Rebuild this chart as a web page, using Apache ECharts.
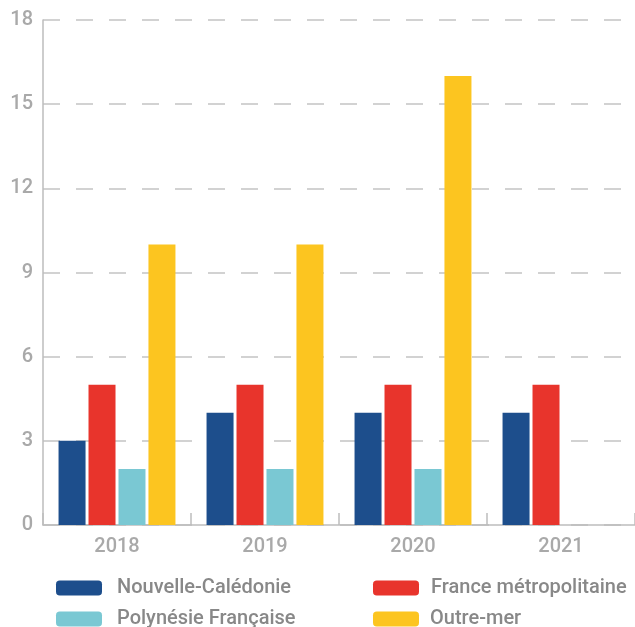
<!DOCTYPE html>
<html>
<head>
<meta charset="utf-8">
<script src="https://cdn.jsdelivr.net/npm/echarts@6/dist/echarts.min.js"></script>
<style>
  html, body { margin: 0; padding: 0; background: #fff; }
  #chart { width: 635px; height: 627px; }
</style>
</head>
<body>
<div id="chart"></div>
<script>
// Years on the category axis
const years = ['2018', '2019', '2020', '2021'];

// Values per territory
const nouvelleCaledonie = [3, 4, 4, 4];
const franceMetropolitaine = [5, 5, 5, 5];
const polynesieFrancaise = [2, 2, 2, null];
const outreMer = [10, 10, 16, null];

const seriesNames = ['Nouvelle-Calédonie', 'France métropolitaine', 'Polynésie Française', 'Outre-mer'];
const seriesColors = ['#1d4e8c', '#e8342c', '#7ac8d3', '#fcc520'];
const seriesData = [nouvelleCaledonie, franceMetropolitaine, polynesieFrancaise, outreMer];

// Legend laid out as two columns of two rows
const legendSlots = [
  { left: 56, top: 578, textGap: 10 },
  { left: 373, top: 578, textGap: 7 },
  { left: 56, top: 609, textGap: 10 },
  { left: 373, top: 609, textGap: 6 }
];

const chart = echarts.init(document.getElementById('chart'));

chart.setOption({
  animation: false,
  grid: { left: 43, top: 20, width: 595, height: 505, containLabel: false },
  legend: seriesNames.map((name, i) => ({
    data: [name],
    left: legendSlots[i].left, top: legendSlots[i].top,
    padding: 0,
    itemWidth: 46, itemHeight: 15,
    icon: 'roundRect',
    textStyle: {
      color: '#888888', fontSize: 20, fontFamily: 'Roboto', fontWeight: 500,
      padding: [0, 0, 0, legendSlots[i].textGap]
    },
    selectedMode: false
  })),
  xAxis: {
    type: 'category',
    data: years,
    axisLine: { lineStyle: { color: '#bdbdbd', width: 1.5 } },
    axisTick: { show: true, inside: true, length: 12, lineStyle: { color: '#bdbdbd', width: 1.5 } },
    axisLabel: { color: '#a9a9a9', fontSize: 20, fontFamily: 'Roboto', fontWeight: 500, margin: 12 }
  },
  yAxis: {
    type: 'value',
    min: 0, max: 18, interval: 3,
    axisLine: { show: true, lineStyle: { color: '#bdbdbd', width: 1.5 } },
    axisTick: { show: false },
    axisLabel: { color: '#a9a9a9', fontSize: 20, fontFamily: 'Roboto', fontWeight: 500, margin: 10 },
    splitLine: { show: true, lineStyle: { color: '#c4c4c4', width: 1.5, type: [17, 16] } }
  },
  series: seriesNames.map((name, i) => ({
    name: name,
    type: 'bar',
    data: seriesData[i],
    barWidth: 27,
    barGap: '11%',
    itemStyle: { color: seriesColors[i] }
  }))
});
</script>
</body>
</html>
